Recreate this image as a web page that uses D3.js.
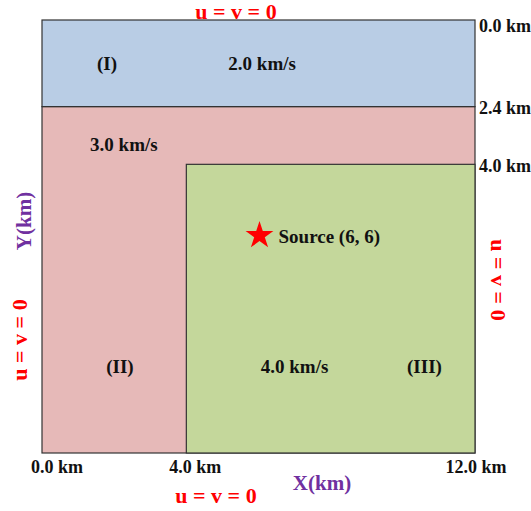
<!DOCTYPE html>
<html>
<head>
<meta charset="utf-8">
<script src="https://cdn.jsdelivr.net/npm/d3@7"></script>
<style>
  body { margin: 0; background: #fff; }
  text { font-family: "Liberation Serif", "Times New Roman", serif; font-weight: bold; }
</style>
</head>
<body>
<div id="chart"></div>
<script>
var width = 531, height = 511;

// model regions in km
var regions = [
  {name: "(II)", x0: 0, x1: 12, y0: 2.4, y1: 12, color: "#e6b9b8"},
  {name: "(I)", x0: 0, x1: 12, y0: 0, y1: 2.4, color: "#b9cde5"},
  {name: "(III)", x0: 4, x1: 12, y0: 4, y1: 12, color: "#c4d79b"}
];
var xTicks = [0, 4, 12];
var yTicks = [0, 2.4, 4];
var source = [6, 6];
var labels = [
  {text: "(I)", x: 1.8, y: 1.2},
  {text: "2.0 km/s", x: 6.1, y: 1.2},
  {text: "3.0 km/s", x: 2.27, y: 3.46},
  {text: "(II)", x: 2.16, y: 9.6},
  {text: "4.0 km/s", x: 7.0, y: 9.6},
  {text: "(III)", x: 10.6, y: 9.6}
];

var x = d3.scaleLinear().domain([0, 12]).range([42, 475]);
var y = d3.scaleLinear().domain([0, 12]).range([20, 453]);

var svg = d3.select("#chart").append("svg")
  .attr("width", width)
  .attr("height", height);

svg.selectAll(".region")
  .data(regions)
  .enter().append("rect")
    .attr("class", "region")
    .attr("x", function(d) { return x(d.x0); })
    .attr("y", function(d) { return y(d.y0); })
    .attr("width", function(d) { return x(d.x1) - x(d.x0); })
    .attr("height", function(d) { return y(d.y1) - y(d.y0); })
    .attr("fill", function(d) { return d.color; })
    .attr("stroke", "#333")
    .attr("stroke-width", 1.2);

svg.selectAll(".lbl")
  .data(labels)
  .enter().append("text")
    .attr("class", "lbl")
    .attr("x", function(d) { return x(d.x); })
    .attr("y", function(d) { return y(d.y); })
    .attr("dy", "0.35em")
    .attr("text-anchor", "middle")
    .style("font-size", "19px")
    .attr("fill", "#111")
    .text(function(d) { return d.text; });

// source star
svg.append("path")
  .attr("d", d3.symbol().type(d3.symbolStar).size(240))
  .attr("transform", "translate(" + (x(source[0]) + 1) + "," + (y(source[1]) - 1) + ")")
  .attr("fill", "#ff0000");

svg.append("text")
  .attr("x", x(source[0]) + 20)
  .attr("y", y(source[1]))
  .attr("dy", "0.35em")
  .style("font-size", "19px")
  .attr("fill", "#111")
  .text("Source (" + source[0] + ", " + source[1] + ")");

// right depth labels
svg.selectAll(".ytick")
  .data(yTicks)
  .enter().append("text")
    .attr("class", "ytick")
    .attr("x", 479)
    .attr("y", function(d, i) { return y(d) + [12, 7, 8][i]; })
    .style("font-size", "18px")
    .attr("fill", "#111")
    .text(function(d) { return d.toFixed(1) + " km"; });

// bottom labels
svg.selectAll(".xtick")
  .data(xTicks)
  .enter().append("text")
    .attr("class", "xtick")
    .attr("x", function(d, i) { return x(d) + [15, 9, 1][i]; })
    .attr("y", 473)
    .attr("text-anchor", "middle")
    .style("font-size", "18px")
    .attr("fill", "#111")
    .text(function(d) { return d.toFixed(1) + " km"; });

// axis titles
svg.append("text")
  .attr("x", 322).attr("y", 490)
  .attr("text-anchor", "middle")
  .style("font-size", "21px")
  .attr("fill", "#7030a0")
  .text("X(km)");

svg.append("text")
  .attr("transform", "translate(31,221) rotate(-90)")
  .attr("text-anchor", "middle")
  .style("font-size", "21px")
  .attr("fill", "#7030a0")
  .text("Y(km)");

// boundary conditions
var bc = "u = v = 0";
svg.append("text")
  .attr("x", 236).attr("y", 19)
  .attr("text-anchor", "middle")
  .style("font-size", "22px")
  .attr("fill", "#ff0000")
  .text(bc);

svg.append("text")
  .attr("x", 216).attr("y", 503)
  .attr("text-anchor", "middle")
  .style("font-size", "22px")
  .attr("fill", "#ff0000")
  .text(bc);

svg.append("text")
  .attr("transform", "translate(27,340) rotate(-90)")
  .attr("text-anchor", "middle")
  .style("font-size", "22px")
  .attr("fill", "#ff0000")
  .text(bc);

svg.append("text")
  .attr("transform", "translate(491,280) rotate(90)")
  .attr("text-anchor", "middle")
  .style("font-size", "22px")
  .attr("fill", "#ff0000")
  .text(bc);
</script>
</body>
</html>
